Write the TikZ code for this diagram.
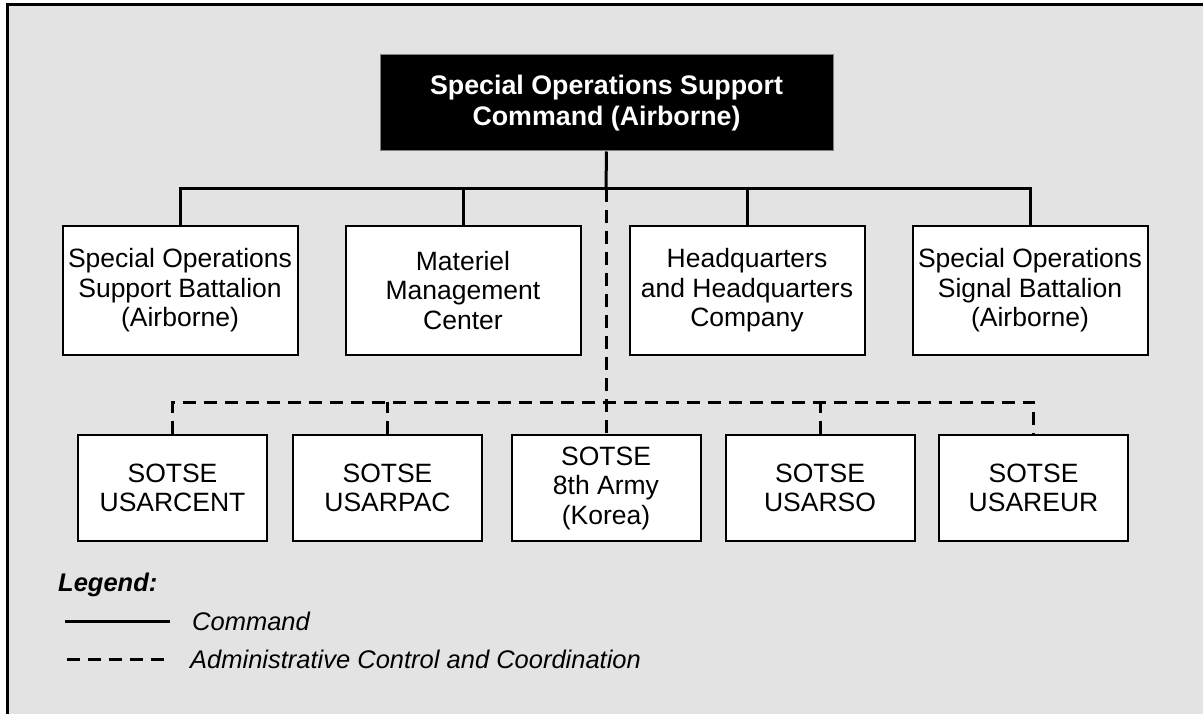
\documentclass[tikz,border=0pt]{standalone}
\usepackage{fontspec}
\setmainfont{Liberation Sans}
\definecolor{bg}{HTML}{E3E3E3}
\begin{document}
\begin{tikzpicture}[x=1pt,y=-1pt,
  unit/.style={draw=black, line width=2pt, fill=white, minimum width=235pt, minimum height=129pt,
    align=center, font=\fontsize{26.5}{29.5}\selectfont, inner sep=0pt},
  sotse/.style={unit, minimum width=189pt, minimum height=106pt},
  topbox/.style={fill=black, draw=gray, line width=1pt, text=white, align=center,
    font=\bfseries\fontsize{26.8}{31}\selectfont, minimum width=453pt, minimum height=96pt, inner sep=0pt},
  cmd/.style={line width=3pt},
  adm/.style={line width=3pt, dash pattern=on 13pt off 8pt},
  legtext/.style={anchor=west, inner sep=0pt, font=\itshape\fontsize{25.5}{29}\selectfont},
]
\useasboundingbox (0,0) rectangle (1203,714);
\fill[white] (0,0) rectangle (1203,714);
\fill[bg] (7,5) rectangle (1203,714);
\draw[line width=3pt] (7,714) -- (7,5) -- (1203,5);

\node[topbox] (top) at (606.5,103) {Special Operations Support\\Command (Airborne)};

\node[unit] (b1) at (180,290.5) {Special Operations\\Support Battalion\\(Airborne)};
\node[unit] (b2) at (463,290.5) {Materiel\\Management\\Center};
\node[unit] (b3) at (747,290.5) {Headquarters\\and Headquarters\\Company};
\node[unit] (b4) at (1030,290.5) {Special Operations\\Signal Battalion\\(Airborne)};

\node[sotse] (s1) at (172.5,488) {SOTSE\\USARCENT};
\node[sotse] (s2) at (387.5,488) {SOTSE\\USARPAC};
\node[sotse] (s3) at (606,488) {SOTSE\\8th Army\\(Korea)};
\node[sotse] (s4) at (820,488) {SOTSE\\USARSO};
\node[sotse] (s5) at (1033.5,488) {SOTSE\\USAREUR};

\coordinate (j1) at (606,189);
\coordinate (j2) at (606,402);

\draw[cmd] (top.south) -- (j1);
\draw[cmd] (b1.north) |- (j1) -| (b4.north);
\draw[cmd] (b2.north) -- (b2.north |- j1);
\draw[cmd] (b3.north) -- (b3.north |- j1);

\draw[adm] (j1) -- (s3.north);
\draw[adm] (s1.north) |- (j2) -| (s5.north);
\draw[adm] (s2.north) -- (s2.north |- j2);
\draw[adm] (s4.north) -- (s4.north |- j2);

\node[legtext, font=\bfseries\itshape\fontsize{25.5}{29}\selectfont] (leg) at (58,585) {Legend:};
\coordinate (c1) at (65,621);
\coordinate (c2) at (170,621);
\draw[cmd] (c1) -- (c2);
\node[legtext] (lc) at (192,621) {Command};
\coordinate (d1) at (67,659);
\coordinate (d2) at (164,659);
\draw[adm] (d1) -- (d2);
\node[legtext] (la) at (190,659) {Administrative Control and Coordination};
\end{tikzpicture}
\end{document}
